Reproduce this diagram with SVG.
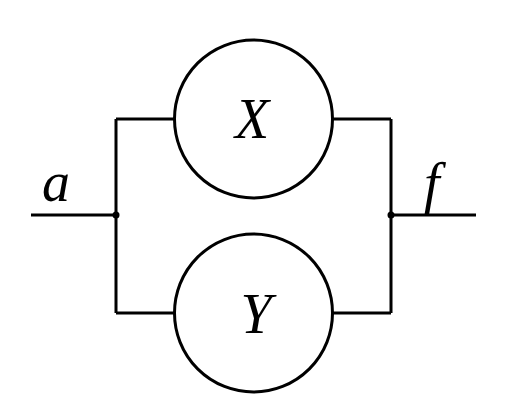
<svg xmlns="http://www.w3.org/2000/svg" width="517" height="413" viewBox="0 0 517 413">
<style>
.w{fill:none;stroke:#000;stroke-width:3}
.n{fill:#fff;stroke:#000;stroke-width:3}
.t{font-family:"Liberation Serif",serif;font-style:italic;font-size:56px;fill:#000}
</style>
<rect width="517" height="413" fill="#fff"/>
<g id="connectors">
<path class="w" d="M31 215H116M116 119V313M116 119H174M116 313H174M333 119H391M333 313H391M391 119V313M391 215H476"/>
<circle cx="116" cy="215" r="3.5"/>
<circle cx="391" cy="215" r="3.5"/>
</g>
<g id="X"><circle class="n" cx="253.5" cy="119" r="79"/><text class="t" x="252" y="138" text-anchor="middle">X</text></g>
<g id="Y"><circle class="n" cx="253.5" cy="313" r="79"/><text class="t" x="256" y="333" text-anchor="middle">Y</text></g>
<text class="t" x="42" y="201">a</text>
<text class="t" x="424" y="202">f</text>
</svg>
